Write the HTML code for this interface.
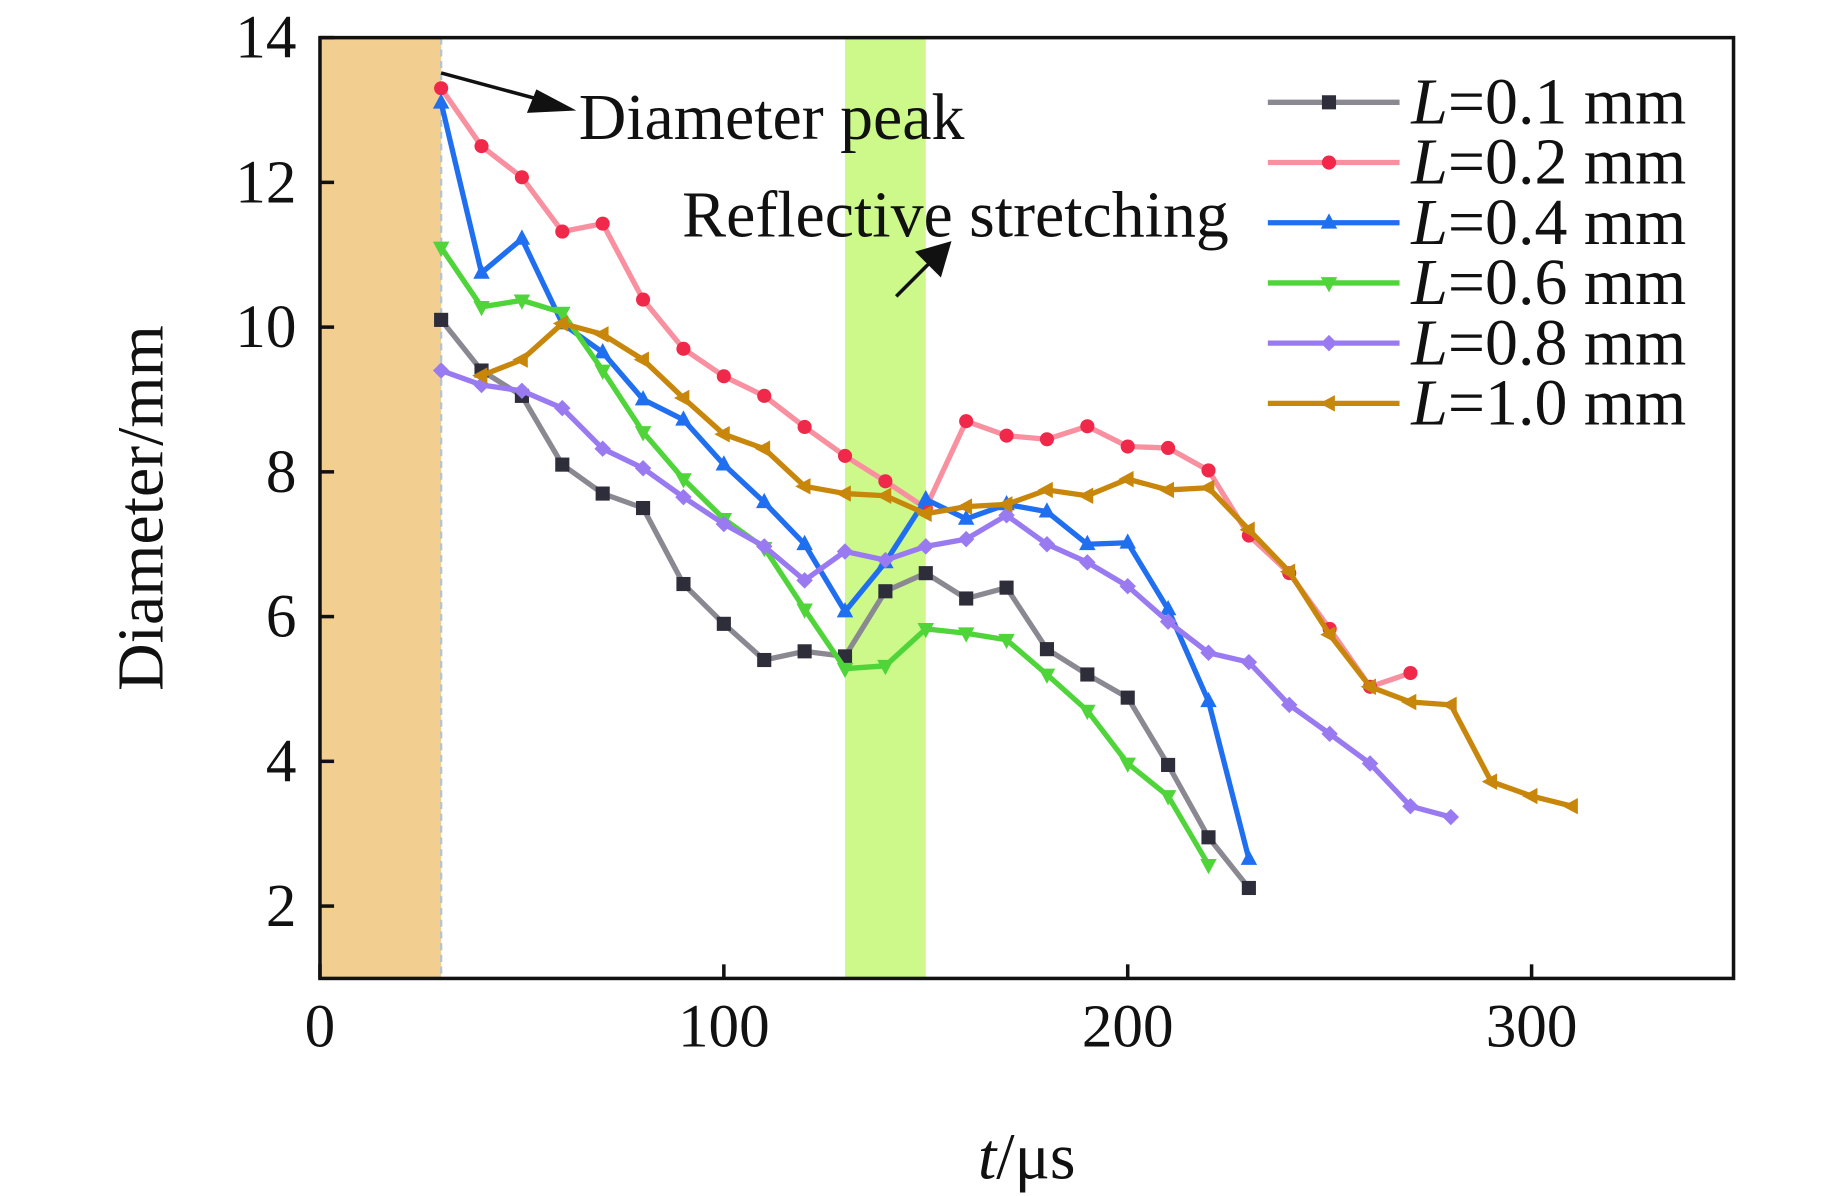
<!DOCTYPE html>
<html><head><meta charset="utf-8"><style>
html,body{margin:0;padding:0;background:#fff}
svg{display:block}
text{font-family:"Liberation Serif",serif;fill:#111}
</style></head><body>
<svg id="chart" width="1843" height="1196" viewBox="0 0 1567 1017" xmlns="http://www.w3.org/2000/svg">
<g id="bands"></g>
<g id="series"></g>
<g id="axes"></g>
<g id="legend"></g>
</svg>
<script>
const xTicks=[0,100,200,300];
const yTicks=[2,4,6,8,10,12,14];
const seriesNames=["L=0.1 mm","L=0.2 mm","L=0.4 mm","L=0.6 mm","L=0.8 mm","L=1.0 mm"];
const t01=[30,40,50,60,70,80,90,100,110,120,130,140,150,160,170,180,190,200,210,220,230];
const d01=[10.1,9.4,9.05,8.1,7.7,7.5,6.45,5.9,5.4,5.52,5.45,6.35,6.6,6.25,6.4,5.55,5.2,4.88,3.95,2.95,2.25];
const t02=[30,40,50,60,70,80,90,100,110,120,130,140,150,160,170,180,190,200,210,220,230,240,250,260,270];
const d02=[13.3,12.5,12.07,11.32,11.43,10.38,9.7,9.32,9.05,8.62,8.22,7.87,7.5,8.7,8.5,8.45,8.63,8.35,8.33,8.02,7.12,6.6,5.83,5.03,5.22];
const t04=[30,40,50,60,70,80,90,100,110,120,130,140,150,160,170,180,190,200,210,220,230];
const d04=[13.1,10.75,11.22,10.05,9.65,9.0,8.72,8.1,7.58,7.0,6.07,6.75,7.62,7.35,7.55,7.45,7.0,7.02,6.1,4.83,2.65];
const t06=[30,40,50,60,70,80,90,100,110,120,130,140,150,160,170,180,190,200,210,220];
const d06=[11.1,10.28,10.37,10.2,9.4,8.55,7.9,7.35,6.95,6.1,5.28,5.32,5.83,5.77,5.68,5.2,4.7,3.97,3.52,2.57];
const t08=[30,40,50,60,70,80,90,100,110,120,130,140,150,160,170,180,190,200,210,220,230,240,250,260,270,280];
const d08=[9.4,9.2,9.12,8.88,8.32,8.05,7.65,7.28,6.97,6.5,6.9,6.78,6.97,7.07,7.4,7.0,6.75,6.42,5.93,5.5,5.37,4.78,4.38,3.97,3.38,3.23];
const t10=[40,50,60,70,80,90,100,110,120,130,140,150,160,170,180,190,200,210,220,230,240,250,260,270,280,290,300,310];
const d10=[9.33,9.55,10.05,9.9,9.55,9.02,8.52,8.32,7.8,7.7,7.67,7.42,7.52,7.55,7.75,7.67,7.9,7.75,7.78,7.2,6.62,5.75,5.03,4.82,4.78,3.72,3.52,3.38];
const bandPeak=[0,30];
const bandReflect=[130,150];

const X0=272,X1=1474,Y0=832,Y1=32,xmin=0,xmax=350,ymin=1,ymax=14;
const sx=v=>X0+(v-xmin)/(xmax-xmin)*(X1-X0);
const sy=v=>Y0-(v-ymin)/(ymax-ymin)*(Y0-Y1);
const NS="http://www.w3.org/2000/svg";
function mk(tag,attrs,parent){const e=document.createElementNS(NS,tag);for(const k in attrs)e.setAttribute(k,attrs[k]);parent.appendChild(e);return e;}
const bands=document.getElementById('bands'),ser=document.getElementById('series'),axes=document.getElementById('axes'),leg=document.getElementById('legend');

let b=mk('rect',{x:sx(bandPeak[0]),y:Y1,width:sx(bandPeak[1])-sx(bandPeak[0]),height:Y0-Y1,fill:'#f2cf90'},bands);


b=mk('rect',{x:sx(bandReflect[0]),y:Y1,width:sx(bandReflect[1])-sx(bandReflect[0]),height:Y0-Y1,fill:'#ccf98a'},bands);


b=mk('line',{x1:sx(bandPeak[1]),x2:sx(bandPeak[1]),y1:Y1,y2:Y0,stroke:'#b8c4c8','stroke-width':2,'stroke-dasharray':'6 4'},bands);



const cfg=[
 {t:t01,d:d01,line:'#8a8890',mark:'#2e2d3a',shape:'sq'},
 {t:t02,d:d02,line:'#f890a0',mark:'#f0284a',shape:'ci'},
 {t:t04,d:d04,line:'#1f6ff0',mark:'#1f6ff0',shape:'up'},
 {t:t06,d:d06,line:'#4fd43a',mark:'#4fd43a',shape:'dn'},
 {t:t08,d:d08,line:'#9a7af0',mark:'#9a7af0',shape:'di'},
 {t:t10,d:d10,line:'#c8860a',mark:'#c8860a',shape:'lt'}];
function marker(shape,x,y,c,g){
 const s=6;let e;
 if(shape==='sq')e=mk('rect',{x:x-s,y:y-s,width:2*s,height:2*s,fill:c},g);
 else if(shape==='ci')e=mk('circle',{cx:x,cy:y,r:6,fill:c},g);
 else{let p;
  if(shape==='up')p=[[x,y-8],[x+7,y+5],[x-7,y+5]];
  else if(shape==='dn')p=[[x,y+8],[x+7,y-5],[x-7,y-5]];
  else if(shape==='di')p=[[x,y-7],[x+7,y],[x,y+7],[x-7,y]];
  else p=[[x-8,y],[x+5,y-7],[x+5,y+7]];
  e=mk('polygon',{points:p.map(q=>q.join(',')).join(' '),fill:c},g);}
 return e;}
cfg.forEach((c,i)=>{
 const g=mk('g',{},ser);
 
 
 const pl=mk('polyline',{points:c.t.map((t,j)=>sx(t)+','+sy(c.d[j])).join(' '),fill:'none',stroke:c.line,'stroke-width':4.5,'stroke-linejoin':'round'},g);
 
 
 c.t.forEach((t,j)=>{const m=marker(c.shape,sx(t),sy(c.d[j]),c.mark,g);
  
  });
 const ly=87+i*51.2;
 const lg=mk('g',{},leg);
 
 
 mk('line',{x1:1078,x2:1190,y1:ly,y2:ly,stroke:c.line,'stroke-width':4.5},lg);
 marker(c.shape,1130,ly,c.mark,lg);
 const tx=mk('text',{x:1200,y:ly+18,'font-size':56},lg);
 tx.innerHTML='<tspan font-style="italic">L</tspan>='+seriesNames[i].slice(2);
});

let f=mk('rect',{x:X0,y:Y1,width:X1-X0,height:Y0-Y1,fill:'none',stroke:'#111','stroke-width':3},axes);


xTicks.forEach(v=>{mk('line',{x1:sx(v),x2:sx(v),y1:Y0,y2:Y0-12,stroke:'#111','stroke-width':3},axes);
 const t=mk('text',{x:sx(v),y:Y0+58,'font-size':52,'text-anchor':'middle'},axes);t.textContent=v;
 
 });
yTicks.forEach(v=>{mk('line',{x1:X0,x2:X0+12,y1:sy(v),y2:sy(v),stroke:'#111','stroke-width':3},axes);
 const t=mk('text',{x:X0-20,y:sy(v)+17,'font-size':52,'text-anchor':'end'},axes);t.textContent=v;
 
 });
let yt=mk('text',{x:0,y:0,'font-size':56,'text-anchor':'middle',transform:'translate(138,432) rotate(-90)'},axes);
yt.textContent='Diameter/mm';


let xt=mk('text',{x:873,y:1002,'font-size':56,'text-anchor':'middle'},axes);
xt.innerHTML='<tspan font-style="italic">t</tspan>/μs';



let a=mk('line',{x1:375,y1:62,x2:460,y2:85,stroke:'#111','stroke-width':3},axes);


a=mk('polygon',{points:'490,94 448,96 456,76'},axes);a.setAttribute('fill','#111');


let t1=mk('text',{x:492,y:118,'font-size':56},axes);t1.textContent='Diameter peak';


a=mk('line',{x1:762,y1:252,x2:795,y2:219,stroke:'#111','stroke-width':3},axes);


a=mk('polygon',{points:'809,205 800,236 778,214'},axes);a.setAttribute('fill','#111');


let t2=mk('text',{x:580,y:201,'font-size':56},axes);t2.textContent='Reflective stretching';


</script>
</body></html>
